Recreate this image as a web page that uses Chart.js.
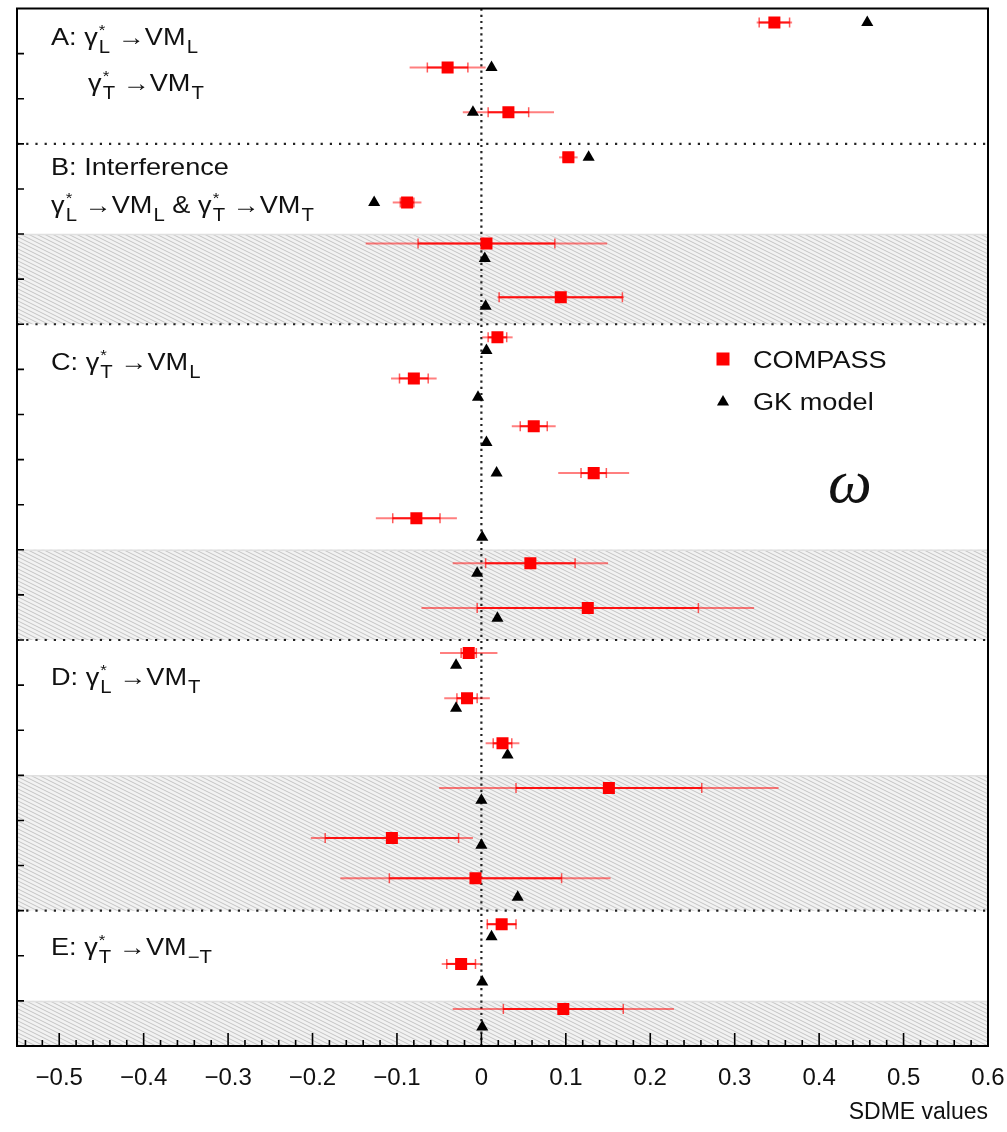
<!DOCTYPE html>
<html>
<head>
<meta charset="utf-8">
<script src="https://cdn.jsdelivr.net/npm/chart.js@4.4.0/dist/chart.umd.min.js"></script>
<style>
  html, body { margin: 0; padding: 0; background: #fff; }
</style>
</head>
<body>
<canvas id="sdme" width="1007" height="1132"></canvas>
<script>
// SDMEs, one per row from top (row 0) to bottom (row 22)
const compassValue = [0.347, -0.040, 0.032, 0.103, -0.088, 0.006, 0.094, 0.019, -0.080, 0.062, 0.133, -0.077,
  0.058, 0.126, -0.015, -0.017, 0.025, 0.151, -0.106, -0.007, 0.024, -0.024, 0.097];
const compassStat = [0.018, 0.024, 0.024, 0.006, 0.008, 0.081, 0.073, 0.011, 0.017, 0.016, 0.015, 0.028,
  0.053, 0.131, 0.009, 0.012, 0.011, 0.110, 0.079, 0.102, 0.017, 0.017, 0.071];
const compassTotal = [0.021, 0.045, 0.054, 0.011, 0.017, 0.143, 0.075, 0.018, 0.027, 0.026, 0.042, 0.048,
  0.092, 0.197, 0.034, 0.027, 0.020, 0.201, 0.096, 0.160, 0.018, 0.023, 0.131];
const compassRow = [0.31, 1.31, 2.30, 3.30, 4.30, 5.21, 6.40, 7.29, 8.20, 9.26, 10.30, 11.30,
  12.30, 13.29, 14.29, 15.29, 16.29, 17.28, 18.39, 19.28, 20.30, 21.18, 22.18];

const gkValue = [0.457, 0.012, -0.010, 0.127, -0.127, 0.004, 0.005, 0.006, -0.004, 0.006, 0.018, 0.001,
  -0.005, 0.019, -0.030, -0.030, 0.031, 0.000, 0.000, 0.043, 0.012, 0.001, 0.001];
const gkRow = [0.31, 1.31, 2.30, 3.30, 4.30, 5.54, 6.60, 7.58, 8.62, 9.62, 10.30, 11.72,
  12.52, 13.52, 14.56, 15.51, 16.55, 17.55, 18.55, 19.70, 20.58, 21.58, 22.58];

const xTickValues = [-0.5, -0.4, -0.3, -0.2, -0.1, 0, 0.1, 0.2, 0.3, 0.4, 0.5, 0.6];
const sectionBreaks = [3, 7, 14, 20];
const shadedRows = [[5, 7], [12, 14], [17, 20], [22, 23]];
const rowCount = 23;

const FONT = '"Liberation Sans", Arial, sans-serif';

const fmtTick = v => {
  const s = Math.abs(v) < 1e-9 ? '0' : (+v).toFixed(1);
  return s.replace('-', '\u2212');
};

function hatchPattern(ctx) {
  const c = document.createElement('canvas');
  c.width = 8; c.height = 4;
  const g = c.getContext('2d');
  g.fillStyle = '#f2f2f2';
  g.fillRect(0, 0, 8, 4);
  g.strokeStyle = '#c3c3c3';
  g.lineWidth = 1;
  g.beginPath();
  for (const dx of [-8, 0, 8]) {
    g.moveTo(dx - 1, -0.5);
    g.lineTo(dx + 9, 4.5);
  }
  g.stroke();
  return ctx.createPattern(c, 'repeat');
}

// text with stacked super/subscripts (gamma*_L), widened a little
function drawRich(ctx, parts, x, y, size, stretch) {
  ctx.save();
  ctx.translate(x, y);
  ctx.scale(stretch, 1);
  let cx = 0;
  ctx.textAlign = 'left';
  ctx.textBaseline = 'alphabetic';
  for (const p of parts) {
    ctx.font = size + 'px ' + FONT;
    ctx.fillText(p.t, cx, 0);
    cx += ctx.measureText(p.t).width;
    let w = 0;
    if (p.sup) {
      ctx.font = Math.round(size * 0.62) + 'px ' + FONT;
      ctx.fillText(p.sup, cx + 1, -size * 0.42);
      w = Math.max(w, ctx.measureText(p.sup).width + 1);
    }
    if (p.sub) {
      ctx.font = Math.round(size * 0.74) + 'px ' + FONT;
      ctx.fillText(p.sub, cx + 1, size * 0.33);
      w = Math.max(w, ctx.measureText(p.sub).width + 1);
    }
    cx += w;
  }
  ctx.restore();
}

const gL = { t: '\u03b3', sup: '*', sub: 'L' };
const gT = { t: '\u03b3', sup: '*', sub: 'T' };
const sectionLabels = [
  { x: 51, y: 45, parts: [{ t: 'A: ' }, gL, { t: ' \u2192VM', sub: 'L' }] },
  { x: 88, y: 91, parts: [gT, { t: ' \u2192VM', sub: 'T' }] },
  { x: 51, y: 175, parts: [{ t: 'B: Interference' }] },
  { x: 51, y: 213, parts: [gL, { t: ' \u2192VM', sub: 'L' }, { t: ' & ' }, gT, { t: ' \u2192VM', sub: 'T' }] },
  { x: 51, y: 370, parts: [{ t: 'C: ' }, gT, { t: ' \u2192VM', sub: 'L' }] },
  { x: 51, y: 685, parts: [{ t: 'D: ' }, gL, { t: ' \u2192VM', sub: 'T' }] },
  { x: 51, y: 955, parts: [{ t: 'E: ' }, gT, { t: ' \u2192VM', sub: '\u2212T' }] }
];

const panels = {
  id: 'panels',
  beforeDatasetsDraw(chart) {
    const { ctx, chartArea: a, scales: { x, y } } = chart;
    ctx.save();

    // hatched bands
    const pat = hatchPattern(ctx);
    for (const [r0, r1] of shadedRows) {
      const y0 = y.getPixelForValue(r0), y1 = y.getPixelForValue(r1);
      ctx.fillStyle = pat;
      ctx.fillRect(a.left, y0, a.right - a.left, y1 - y0);
      ctx.strokeStyle = '#e0e0e0';
      ctx.lineWidth = 1.5;
      ctx.beginPath();
      ctx.moveTo(a.left, y0 + 0.5);
      ctx.lineTo(a.right, y0 + 0.5);
      ctx.stroke();
    }

    // dotted separators
    ctx.strokeStyle = '#222';
    ctx.lineWidth = 2.2;
    ctx.setLineDash([2.2, 7]);
    for (const b of sectionBreaks) {
      const py = y.getPixelForValue(b);
      ctx.beginPath();
      ctx.moveTo(a.left, py);
      ctx.lineTo(a.right, py);
      ctx.stroke();
    }
    ctx.setLineDash([2.2, 4]);
    const x0 = x.getPixelForValue(0);
    ctx.beginPath();
    ctx.moveTo(x0, a.top);
    ctx.lineTo(x0, a.bottom);
    ctx.stroke();
    ctx.setLineDash([]);

    // total (outer) and statistical (inner) errors
    compassValue.forEach((v, i) => {
      const py = y.getPixelForValue(compassRow[i]);
      ctx.strokeStyle = 'rgba(255,0,0,0.5)';
      ctx.lineWidth = 2;
      ctx.beginPath();
      ctx.moveTo(x.getPixelForValue(v - compassTotal[i]), py);
      ctx.lineTo(x.getPixelForValue(v + compassTotal[i]), py);
      ctx.stroke();
      const s0 = x.getPixelForValue(v - compassStat[i]);
      const s1 = x.getPixelForValue(v + compassStat[i]);
      ctx.strokeStyle = 'rgba(255,0,0,0.85)';
      ctx.beginPath();
      ctx.moveTo(s0, py);
      ctx.lineTo(s1, py);
      ctx.stroke();
      ctx.strokeStyle = 'rgba(255,0,0,0.65)';
      ctx.lineWidth = 1.5;
      ctx.beginPath();
      ctx.moveTo(s0, py - 5); ctx.lineTo(s0, py + 5);
      ctx.moveTo(s1, py - 5); ctx.lineTo(s1, py + 5);
      ctx.stroke();
    });
    ctx.restore();
  },
  afterDatasetsDraw(chart) {
    const { ctx, chartArea: a, scales: { x, y } } = chart;
    ctx.save();

    // frame
    ctx.strokeStyle = '#000';
    ctx.lineWidth = 2;
    ctx.strokeRect(a.left, a.top, a.right - a.left, a.bottom - a.top);

    // inward ticks
    ctx.lineWidth = 1.6;
    ctx.beginPath();
    for (let k = -27; k <= 30; k++) {
      const px = x.getPixelForValue(k / 50);
      const len = k % 5 === 0 ? 13 : 6;
      ctx.moveTo(px, a.bottom);
      ctx.lineTo(px, a.bottom - len);
    }
    for (let r = 1; r < rowCount; r++) {
      const py = y.getPixelForValue(r);
      ctx.moveTo(a.left, py);
      ctx.lineTo(a.left + 7, py);
    }
    ctx.stroke();

    // section titles
    ctx.fillStyle = '#111';
    for (const l of sectionLabels) drawRich(ctx, l.parts, l.x, l.y, 24, 1.13);

    // legend
    const lx = 723;
    ctx.fillStyle = '#ff0000';
    Chart.helpers.drawPoint(ctx, { pointStyle: 'rect', radius: 9.2, rotation: 0, borderWidth: 0 }, lx, 359);
    ctx.fillStyle = '#000';
    Chart.helpers.drawPoint(ctx, { pointStyle: 'triangle', radius: 7, rotation: 0, borderWidth: 0 }, lx, 402);
    ctx.fillStyle = '#111';
    drawRich(ctx, [{ t: 'COMPASS' }], 753, 368, 23, 1.18);
    drawRich(ctx, [{ t: 'GK model' }], 753, 410, 23, 1.18);

    // meson symbol
    ctx.font = 'italic 62px "Liberation Serif", "DejaVu Serif", serif';
    ctx.textAlign = 'center';
    ctx.textBaseline = 'alphabetic';
    ctx.fillText('\u03c9', 850, 502);
    ctx.restore();
  }
};

new Chart(document.getElementById('sdme'), {
  type: 'scatter',
  data: {
    datasets: [
      {
        label: 'COMPASS',
        data: compassValue.map((v, i) => ({ x: v, y: compassRow[i] })),
        pointStyle: 'rect',
        pointRadius: 8.5,
        backgroundColor: '#ff0000',
        borderWidth: 0
      },
      {
        label: 'GK model',
        data: gkValue.map((v, i) => ({ x: v, y: gkRow[i] })),
        pointStyle: 'triangle',
        pointRadius: 7,
        backgroundColor: '#000',
        borderWidth: 0
      }
    ]
  },
  options: {
    responsive: false,
    animation: false,
    devicePixelRatio: 1,
    layout: { padding: { left: 17, top: 8, right: 19, bottom: 0 } },
    plugins: {
      legend: { display: false },
      tooltip: { enabled: false }
    },
    scales: {
      x: {
        type: 'linear',
        min: -0.55,
        max: 0.6,
        afterBuildTicks(scale) {
          scale.ticks = xTickValues.map(v => ({ value: v }));
        },
        afterFit(scale) {
          // keep the plot frame fixed; the last label may hang over the edge
          scale.height = 86;
          scale.paddingLeft = 0;
          scale.paddingRight = 0;
        },
        border: { display: false },
        grid: { display: false, drawTicks: false },
        ticks: {
          autoSkip: false,
          maxRotation: 0,
          padding: 18,
          color: '#111',
          font: { family: FONT, size: 24 },
          callback: v => fmtTick(v)
        },
        title: {
          display: true,
          text: 'SDME values',
          align: 'end',
          color: '#111',
          font: { family: FONT, size: 23 },
          padding: { top: 0, bottom: 6 }
        }
      },
      y: {
        type: 'linear',
        display: false,
        min: 0,
        max: rowCount,
        reverse: true
      }
    }
  },
  plugins: [panels]
});
</script>
</body>
</html>
